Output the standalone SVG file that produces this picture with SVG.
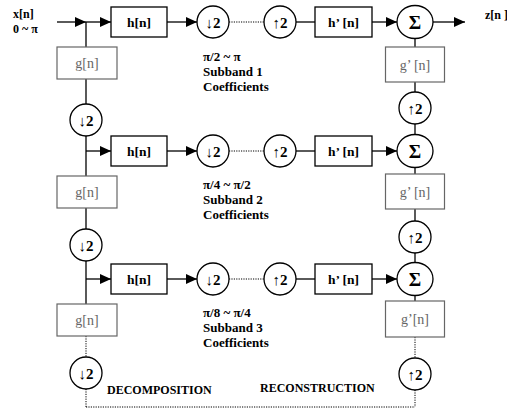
<svg xmlns="http://www.w3.org/2000/svg" width="507" height="409" viewBox="0 0 507 409">
<defs>
<marker id="arr" markerUnits="userSpaceOnUse" markerWidth="12" markerHeight="10" refX="11" refY="5" orient="auto">
<path d="M0,0 L11,5 L0,10 Z" fill="#000"/>
</marker>
<style>
.ln{stroke:#000;stroke-width:1.3;fill:none}
.dt{stroke:#000;stroke-width:1;stroke-dasharray:1.2 1.2;fill:none}
.bx{fill:#fff;stroke:#000;stroke-width:1.3}
.gb{fill:#fff;stroke:#666;stroke-width:1.2}
.ci{fill:#fff;stroke:#000;stroke-width:1.3}
.t{font-family:"Liberation Serif","DejaVu Serif",serif;font-weight:bold;font-size:13.5px;fill:#000}
.g{font-family:"Liberation Serif","DejaVu Serif",serif;font-size:14px;fill:#666}
.lab{font-family:"Liberation Serif","DejaVu Serif",serif;font-weight:bold;font-size:13px;fill:#000}
.sec{font-family:"Liberation Serif","DejaVu Serif",serif;font-weight:bold;font-size:12px;fill:#000}
.op{font-family:"Liberation Serif","DejaVu Serif",serif;font-weight:bold;font-size:15px;fill:#000}
.sg{font-family:"Liberation Serif","DejaVu Serif",serif;font-weight:bold;font-size:19px;fill:#000}
</style>
</defs>

<g id="connectors">
<line class="ln" x1="57" y1="22" x2="86" y2="22" marker-end="url(#arr)"/>
<line class="ln" x1="86" y1="22" x2="111" y2="22" marker-end="url(#arr)"/>
<line class="ln" x1="167" y1="22" x2="197" y2="22" marker-end="url(#arr)"/>
<line class="dt" x1="229" y1="22" x2="264" y2="22"/>
<line class="ln" x1="296" y1="22" x2="315" y2="22"/>
<line class="ln" x1="372" y1="22" x2="397" y2="22" marker-end="url(#arr)"/>
<line class="ln" x1="433" y1="22" x2="465" y2="22" marker-end="url(#arr)"/>
<line class="ln" x1="86" y1="151" x2="111" y2="151" marker-end="url(#arr)"/>
<line class="ln" x1="167" y1="151" x2="197" y2="151" marker-end="url(#arr)"/>
<line class="dt" x1="229" y1="151" x2="264" y2="151"/>
<line class="ln" x1="296" y1="151" x2="315" y2="151"/>
<line class="ln" x1="372" y1="151" x2="397" y2="151" marker-end="url(#arr)"/>
<line class="ln" x1="86" y1="279" x2="111" y2="279" marker-end="url(#arr)"/>
<line class="ln" x1="167" y1="279" x2="197" y2="279" marker-end="url(#arr)"/>
<line class="dt" x1="229" y1="279" x2="264" y2="279"/>
<line class="ln" x1="296" y1="279" x2="315" y2="279"/>
<line class="ln" x1="372" y1="279" x2="397" y2="279" marker-end="url(#arr)"/>
<line class="ln" x1="86" y1="22" x2="86" y2="47"/>
<line class="ln" x1="86" y1="79" x2="86" y2="104"/>
<line class="ln" x1="86" y1="136" x2="86" y2="176"/>
<line class="ln" x1="86" y1="208" x2="86" y2="229"/>
<line class="ln" x1="86" y1="261" x2="86" y2="304"/>
<line class="dt" x1="86" y1="336" x2="86" y2="357"/>
<line class="dt" x1="86" y1="389" x2="86" y2="407"/>
<line class="dt" x1="86" y1="407" x2="415" y2="407"/>
<line class="ln" x1="415" y1="38" x2="415" y2="47"/>
<line class="ln" x1="415" y1="82" x2="415" y2="92"/>
<line class="ln" x1="415" y1="124" x2="415" y2="135"/>
<line class="ln" x1="415" y1="167" x2="415" y2="174"/>
<line class="ln" x1="415" y1="209" x2="415" y2="221"/>
<line class="ln" x1="415" y1="253" x2="415" y2="263"/>
<line class="ln" x1="415" y1="295" x2="415" y2="301"/>
<line class="dt" x1="415" y1="337" x2="415" y2="358"/>
<line class="dt" x1="415" y1="390" x2="415" y2="407"/>
</g>

<g id="input-label">
<text class="sec" x="13" y="18">x[n]</text>
<text class="sec" x="13" y="33">0 ~ π</text>
</g>
<g id="output-label"><text class="sec" x="485" y="19">z[n ]</text></g>

<g id="h1"><rect class="bx" x="111" y="7" width="56" height="30"/><text class="t" x="139" y="27" text-anchor="middle">h[n]</text></g>
<g id="down1"><circle class="ci" cx="213" cy="22" r="16"/><text class="op" x="213" y="27.5" text-anchor="middle">↓2</text></g>
<g id="up1"><circle class="ci" cx="280" cy="22" r="16"/><text class="op" x="280" y="27.5" text-anchor="middle">↑2</text></g>
<g id="hp1"><rect class="bx" x="315" y="7" width="57" height="30"/><text class="t" x="343.5" y="27" text-anchor="middle">h’ [n]</text></g>
<g id="sum1"><ellipse class="ci" cx="415" cy="22" rx="18" ry="16.5"/><text class="sg" x="415" y="28.5" text-anchor="middle">Σ</text></g>
<g id="g1"><rect class="gb" x="57" y="47" width="60" height="32"/><text class="g" x="87" y="68" text-anchor="middle">g[n]</text></g>
<g id="dd1"><circle class="ci" cx="86" cy="120" r="16"/><text class="op" x="86" y="125.5" text-anchor="middle">↓2</text></g>
<g id="gp1"><rect class="gb" x="385.5" y="47" width="59" height="35"/><text class="g" x="415" y="69.5" text-anchor="middle">g’ [n]</text></g>
<g id="uu1"><circle class="ci" cx="415" cy="108" r="16"/><text class="op" x="415" y="113.5" text-anchor="middle">↑2</text></g>
<g id="label1"><text class="lab" x="203" y="61">π/2 ~ π</text><text class="lab" x="203" y="76">Subband 1</text><text class="lab" x="203" y="91">Coefficients</text></g>

<g id="h2"><rect class="bx" x="111" y="136" width="56" height="30"/><text class="t" x="139" y="156" text-anchor="middle">h[n]</text></g>
<g id="down2"><circle class="ci" cx="213" cy="151" r="16"/><text class="op" x="213" y="156.5" text-anchor="middle">↓2</text></g>
<g id="up2"><circle class="ci" cx="280" cy="151" r="16"/><text class="op" x="280" y="156.5" text-anchor="middle">↑2</text></g>
<g id="hp2"><rect class="bx" x="315" y="136" width="57" height="30"/><text class="t" x="343.5" y="156" text-anchor="middle">h’ [n]</text></g>
<g id="sum2"><ellipse class="ci" cx="415" cy="151" rx="18" ry="16.5"/><text class="sg" x="415" y="157.5" text-anchor="middle">Σ</text></g>
<g id="g2"><rect class="gb" x="57" y="176" width="60" height="32"/><text class="g" x="87" y="197" text-anchor="middle">g[n]</text></g>
<g id="dd2"><circle class="ci" cx="86" cy="245" r="16"/><text class="op" x="86" y="250.5" text-anchor="middle">↓2</text></g>
<g id="gp2"><rect class="gb" x="385.5" y="174" width="59" height="35"/><text class="g" x="415" y="196.5" text-anchor="middle">g’ [n]</text></g>
<g id="uu2"><circle class="ci" cx="415" cy="237" r="16"/><text class="op" x="415" y="242.5" text-anchor="middle">↑2</text></g>
<g id="label2"><text class="lab" x="203" y="189">π/4 ~ π/2</text><text class="lab" x="203" y="204">Subband 2</text><text class="lab" x="203" y="219">Coefficients</text></g>

<g id="h3"><rect class="bx" x="111" y="264" width="56" height="30"/><text class="t" x="139" y="284" text-anchor="middle">h[n]</text></g>
<g id="down3"><circle class="ci" cx="213" cy="279" r="16"/><text class="op" x="213" y="284.5" text-anchor="middle">↓2</text></g>
<g id="up3"><circle class="ci" cx="280" cy="279" r="16"/><text class="op" x="280" y="284.5" text-anchor="middle">↑2</text></g>
<g id="hp3"><rect class="bx" x="315" y="264" width="57" height="30"/><text class="t" x="343.5" y="284" text-anchor="middle">h’ [n]</text></g>
<g id="sum3"><ellipse class="ci" cx="415" cy="279" rx="18" ry="16.5"/><text class="sg" x="415" y="285.5" text-anchor="middle">Σ</text></g>
<g id="g3"><rect class="gb" x="57" y="304" width="60" height="32"/><text class="g" x="87" y="325" text-anchor="middle">g[n]</text></g>
<g id="dd3"><circle class="ci" cx="86" cy="373" r="16"/><text class="op" x="86" y="378.5" text-anchor="middle">↓2</text></g>
<g id="gp3"><rect class="gb" x="385.5" y="301" width="59" height="36"/><text class="g" x="415" y="324" text-anchor="middle">g’[n]</text></g>
<g id="uu3"><circle class="ci" cx="415" cy="374" r="16"/><text class="op" x="415" y="379.5" text-anchor="middle">↑2</text></g>
<g id="label3"><text class="lab" x="203" y="317">π/8 ~ π/4</text><text class="lab" x="203" y="332">Subband 3</text><text class="lab" x="203" y="347">Coefficients</text></g>

<g id="section-labels">
<text class="sec" x="107" y="394">DECOMPOSITION</text>
<text class="sec" x="260" y="392">RECONSTRUCTION</text>
</g>
</svg>
